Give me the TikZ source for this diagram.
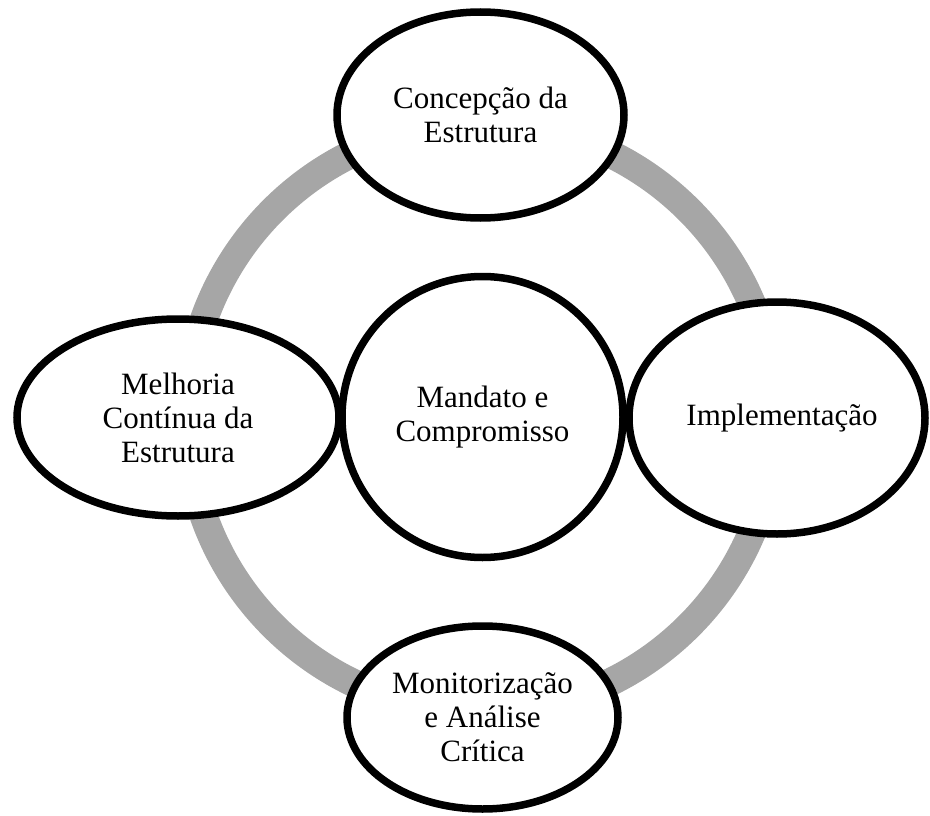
\documentclass[tikz,border=0pt]{standalone}
\usepackage{fontspec}
\setmainfont{Liberation Serif}
\usetikzlibrary{shapes.geometric}
\definecolor{ringgray}{RGB}{166,166,166}
\tikzset{
  bubble/.style={ellipse, draw=black, fill=white, line width=7.5pt, inner sep=0pt, align=center,
    font=\fontsize{31}{34}\selectfont},
}
\begin{document}
\begin{tikzpicture}[x=1pt,y=-1pt]
\useasboundingbox (0,0) rectangle (930,816);
\draw[ringgray, line width=28pt] (481,418) circle (294pt);
\node[bubble, minimum width=281pt, minimum height=281pt] (mand) at (482.5,417) {Mandato e\\Compromisso};
\node[bubble, minimum width=287pt, minimum height=206pt] (conc) at (480.5,115) {Concepção da\\Estrutura};
\node[bubble, minimum width=322pt, minimum height=197pt] (melh) at (178,417.5) {Melhoria\\Contínua da\\Estrutura};
\node[bubble, minimum width=296pt, minimum height=232pt] (impl) at (777,418) {\hspace*{10pt}Implementação};
\node[bubble, minimum width=271pt, minimum height=183pt] (moni) at (482.5,717.5) {Monitorização\\e Análise\\Crítica};
\end{tikzpicture}
\end{document}
